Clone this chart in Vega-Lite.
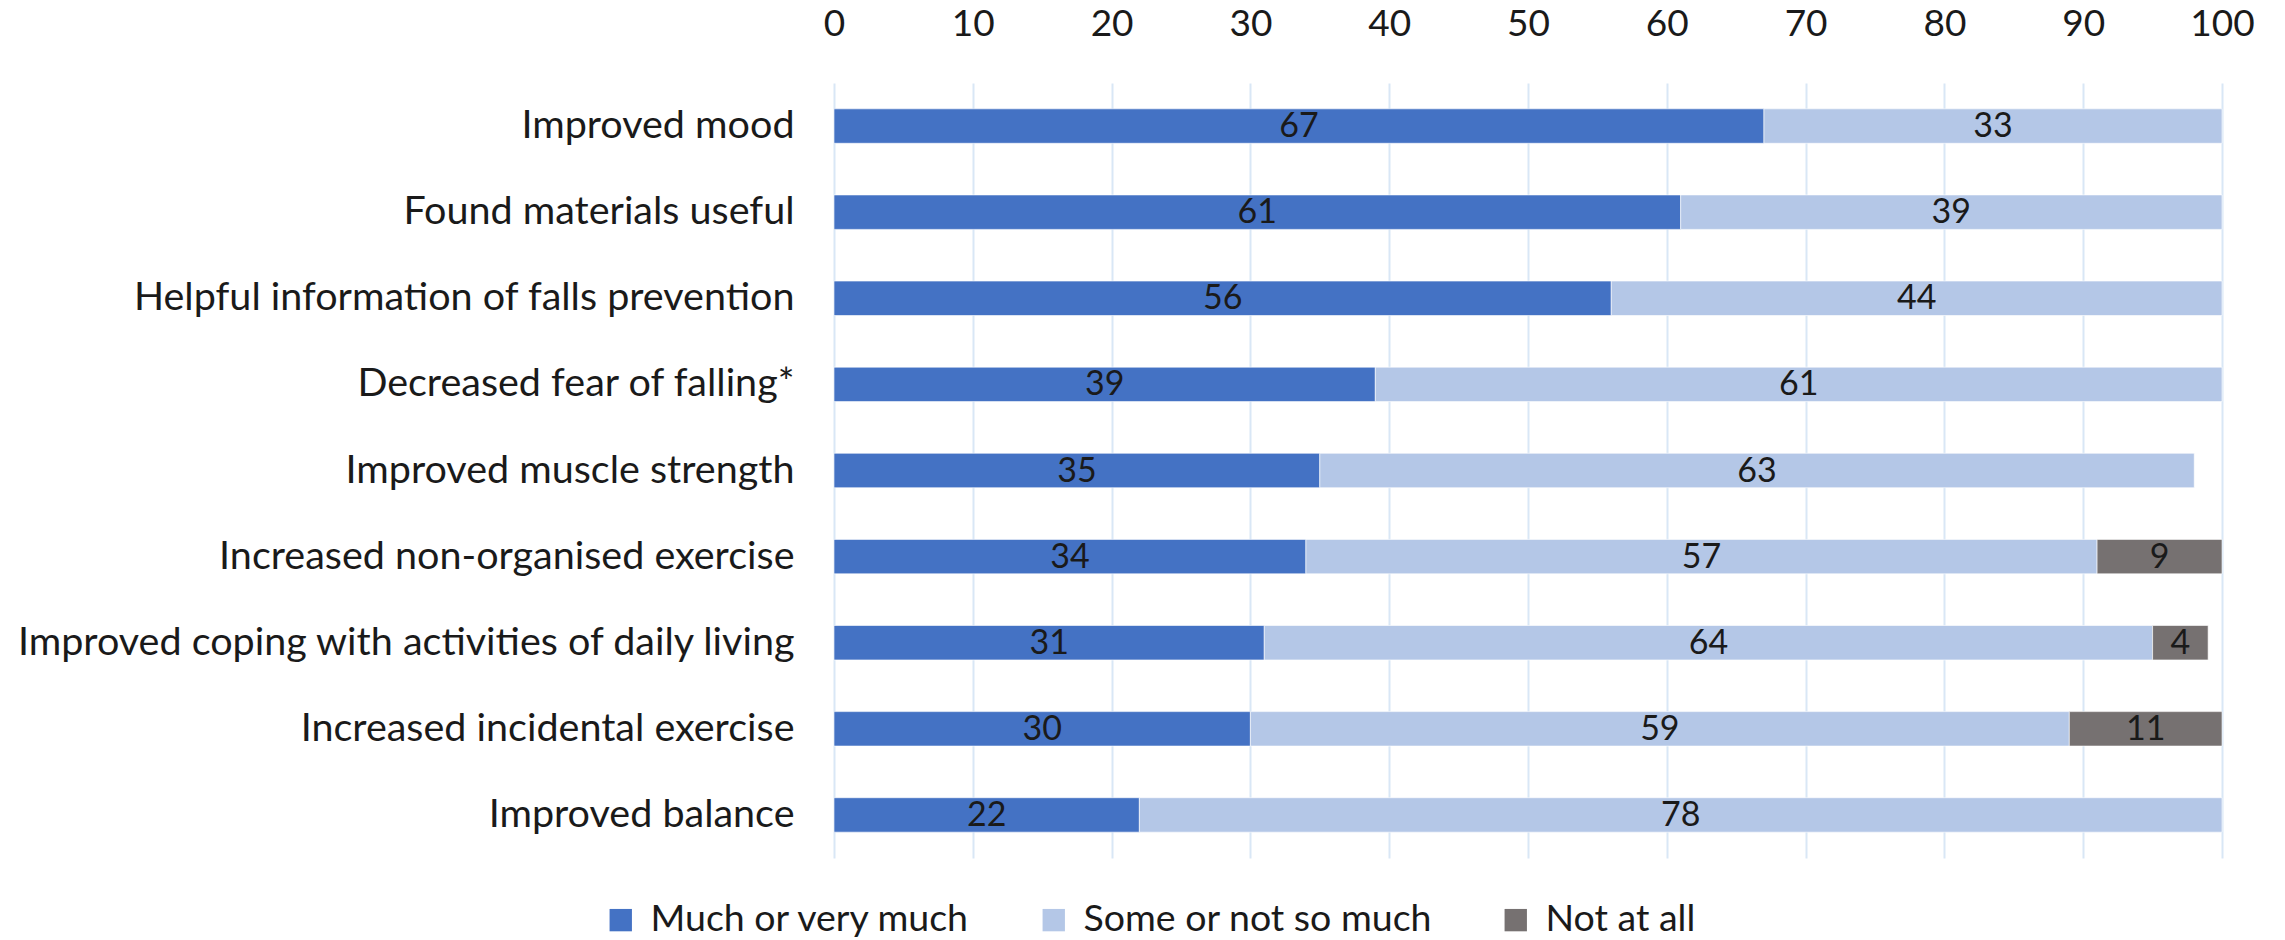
{
  "$schema": "https://vega.github.io/schema/vega-lite/v6.json",
  "width": 1388,
  "height": 775,
  "autosize": {"type": "none"},
  "padding": {"left": 834, "top": 83, "right": 63, "bottom": 82},
  "background": "white",
  "config": {
    "font": "Lato",
    "view": {"stroke": null}
  },
  "data": {
    "values": [
      {"item": "Improved mood", "rank": 1, "level": "Much or very much", "lorder": 1, "value": 67},
      {"item": "Improved mood", "rank": 1, "level": "Some or not so much", "lorder": 2, "value": 33},
      {"item": "Found materials useful", "rank": 2, "level": "Much or very much", "lorder": 1, "value": 61},
      {"item": "Found materials useful", "rank": 2, "level": "Some or not so much", "lorder": 2, "value": 39},
      {"item": "Helpful information of falls prevention", "rank": 3, "level": "Much or very much", "lorder": 1, "value": 56},
      {"item": "Helpful information of falls prevention", "rank": 3, "level": "Some or not so much", "lorder": 2, "value": 44},
      {"item": "Decreased fear of falling*", "rank": 4, "level": "Much or very much", "lorder": 1, "value": 39},
      {"item": "Decreased fear of falling*", "rank": 4, "level": "Some or not so much", "lorder": 2, "value": 61},
      {"item": "Improved muscle strength", "rank": 5, "level": "Much or very much", "lorder": 1, "value": 35},
      {"item": "Improved muscle strength", "rank": 5, "level": "Some or not so much", "lorder": 2, "value": 63},
      {"item": "Increased non-organised exercise", "rank": 6, "level": "Much or very much", "lorder": 1, "value": 34},
      {"item": "Increased non-organised exercise", "rank": 6, "level": "Some or not so much", "lorder": 2, "value": 57},
      {"item": "Increased non-organised exercise", "rank": 6, "level": "Not at all", "lorder": 3, "value": 9},
      {"item": "Improved coping with activities of daily living", "rank": 7, "level": "Much or very much", "lorder": 1, "value": 31},
      {"item": "Improved coping with activities of daily living", "rank": 7, "level": "Some or not so much", "lorder": 2, "value": 64},
      {"item": "Improved coping with activities of daily living", "rank": 7, "level": "Not at all", "lorder": 3, "value": 4},
      {"item": "Increased incidental exercise", "rank": 8, "level": "Much or very much", "lorder": 1, "value": 30},
      {"item": "Increased incidental exercise", "rank": 8, "level": "Some or not so much", "lorder": 2, "value": 59},
      {"item": "Increased incidental exercise", "rank": 8, "level": "Not at all", "lorder": 3, "value": 11},
      {"item": "Improved balance", "rank": 9, "level": "Much or very much", "lorder": 1, "value": 22},
      {"item": "Improved balance", "rank": 9, "level": "Some or not so much", "lorder": 2, "value": 78}
    ]
  },
  "encoding": {
    "y": {
      "field": "item",
      "type": "nominal",
      "sort": {"field": "rank", "op": "min", "order": "ascending"},
      "scale": {"paddingInner": 0.6, "paddingOuter": 0.3},
      "axis": {
        "title": null,
        "domain": false,
        "ticks": false,
        "grid": false,
        "labelPadding": 40,
        "labelFontSize": 39.5,
        "labelColor": "#1a1a1a",
        "labelLimit": 900
      }
    }
  },
  "layer": [
    {
      "mark": {"type": "bar", "stroke": "#ffffff", "strokeWidth": 1, "strokeOpacity": 0.6},
      "encoding": {
        "x": {
          "field": "value",
          "type": "quantitative",
          "stack": "zero",
          "scale": {"domain": [0, 100], "nice": false},
          "axis": {
            "orient": "top",
            "title": null,
            "values": [0, 10, 20, 30, 40, 50, 60, 70, 80, 90, 100],
            "domain": false,
            "ticks": false,
            "grid": true,
            "gridColor": "#d9e7f6",
            "gridWidth": 2,
            "labelPadding": 40,
            "labelFontSize": 37,
            "labelColor": "#1a1a1a",
            "labelFlush": false
          }
        },
        "color": {
          "field": "level",
          "type": "nominal",
          "scale": {
            "domain": ["Much or very much", "Some or not so much", "Not at all"],
            "range": ["#4472C4", "#B4C7E7", "#767171"]
          },
          "legend": {
            "title": null,
            "orient": "none",
            "direction": "horizontal",
            "legendX": -232,
            "legendY": 818,
            "symbolType": "square",
            "symbolSize": 500,
            "symbolStrokeWidth": 0,
            "symbolOpacity": 1,
            "labelFontSize": 37.5,
            "labelColor": "#1a1a1a",
            "labelOffset": 11,
            "columnPadding": 64,
            "labelLimit": 600
          }
        },
        "order": {"field": "lorder", "type": "quantitative"}
      }
    },
    {
      "mark": {"type": "text", "fontSize": 34, "color": "#1a1a1a", "baseline": "middle", "align": "center", "dy": 1},
      "encoding": {
        "x": {"field": "value", "type": "quantitative", "stack": "zero", "bandPosition": 0.5},
        "detail": {"field": "level", "type": "nominal"},
        "order": {"field": "lorder", "type": "quantitative"},
        "text": {"field": "value", "type": "quantitative"}
      }
    }
  ]
}
